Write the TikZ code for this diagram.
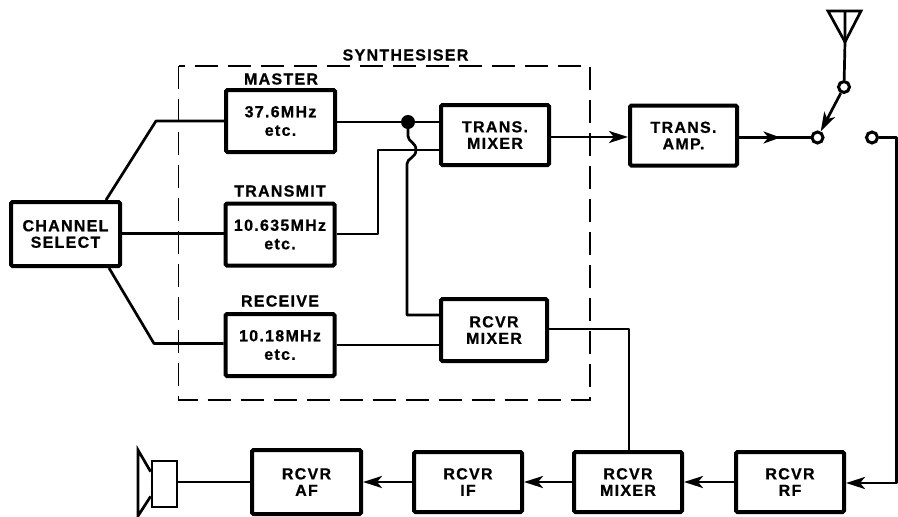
\documentclass[tikz,border=0pt]{standalone}
\usepackage{fontspec}
\setmainfont{Liberation Sans}[BoldFeatures={LetterSpace=8,FakeBold=0.8}]
\usetikzlibrary{arrows.meta,decorations.markings,calc}
\begin{document}
\begin{tikzpicture}[x=1pt,y=-1pt,
  blk/.style={draw,line width=4pt,rounded corners=1.5pt,inner sep=0pt,align=center,font=\bfseries\fontsize{16}{16.5}\selectfont,minimum width=108pt,minimum height=60pt},
  freq/.style={blk,font=\bfseries\fontsize{16}{18.5}\selectfont,minimum width=109pt,minimum height=62pt},
  lab/.style={font=\bfseries\fontsize{16}{16}\selectfont,inner sep=0pt},
  wire/.style={line width=2.7pt,line join=round},
  inarrow/.style={wire,-{Stealth[length=19pt,width=12pt,inset=5pt]}},
  term/.style={circle,draw,line width=3pt,fill=white,minimum size=11pt,inner sep=0pt},
  arr/.style={postaction={decorate},decoration={markings,mark=at position #1 with {\arrow{Stealth[length=17pt,width=12pt,inset=5pt]}}}}]
\useasboundingbox (0,0) rectangle (898,517);
\draw[line width=1.8pt,dash pattern=on 23pt off 10pt] (178.5,66) rectangle (590,400);
\node[lab] (syn) at (405.5,55) {SYNTHESISER};
\node[lab] (mas) at (281,79) {MASTER};
\node[lab] (tra) at (280,191) {TRANSMIT};
\node[lab] (rec) at (280,301) {RECEIVE};
\node[blk,minimum width=109pt,minimum height=64pt] (cs) at (65.5,234) {CHANNEL\\SELECT};
\node[freq] (m) at (280.5,121) {37.6MHz\\etc.};
\node[freq] (t) at (280,234.5) {10.635MHz\\etc.};
\node[freq] (r) at (280,345) {10.18MHz\\etc.};
\node[blk] (tm) at (495,135) {TRANS.\\MIXER};
\node[blk,minimum width=106pt,minimum height=62pt] (rm) at (494,330) {RCVR\\MIXER};
\node[blk,minimum width=107pt] (ta) at (683.5,135.5) {TRANS.\\AMP.};
\node[blk,minimum width=109pt,minimum height=64pt] (af) at (306.5,482) {RCVR\\AF};
\node[blk] (if) at (468,482) {RCVR\\IF};
\node[blk] (rm2) at (628,482) {RCVR\\MIXER};
\node[blk] (rf) at (790,482) {RCVR\\RF};
% channel select fan-out
\coordinate (c0) at (106,200);
\coordinate (c4) at (109,268);
\coordinate (c1) at (156,121);
\coordinate (c3) at (154,343.5);
\coordinate (cm) at (122,233.5);
\draw[wire] (c0) -- (c1) -- (m.west |- c1);
\draw[wire] (cm) -- (t.west |- cm);
\draw[wire] (c4) -- (c3) -- (r.west |- c3);
% master to mixer, branch
\coordinate (dot) at (408,122);
\draw[wire] (m.east |- dot) -- (tm.west |- dot);
\fill (dot) circle (7pt);
\coordinate (b1) at (378,234);
\coordinate (b2) at (378,150);
\draw[wire] (t.east |- b1) -- (b1) -- (b2) -- (tm.west |- b2);
\coordinate (rb) at (407,315);
\draw[wire] (dot) -- (408,136) .. controls (408,142) and (416,142) .. (416,150) .. controls (416,158) and (407,158) .. (407,164) -- (rb) -- (rm.west |- rb);
\draw[wire] (r.east) -- (rm.west |- r.east);
% transmit chain
\coordinate (txy) at (600,137);
\draw[inarrow] (tm.east |- txy) -- (ta.west |- txy);
\node[term] (sw) at (817.5,137.5) {};
\node[term] (up) at (844,87) {};
\node[term] (rx) at (872,137.5) {};
\draw[wire,arr=0.58] (ta.east |- sw) -- (sw);
\draw[inarrow] (up) -- (sw);
% antenna
\coordinate (ap) at (845,42);
\coordinate (al) at (828,11);
\coordinate (ar) at (861,11);
\coordinate (am) at (845,11);
\draw[wire,line join=miter] (al) -- (ar) -- (ap) -- cycle;
\draw[wire] (am) -- (ap) -- (up);
% receive path
\coordinate (k1) at (896.5,137.5);
\coordinate (k2) at (896.5,483);
\draw[inarrow] (rx) -- (k1) -- (k2) -- (rf.east |- k2);
\draw[inarrow] (rf.west) -- (rm2.east);
\draw[inarrow] (rm2.west) -- (if.east);
\draw[inarrow] (if.west) -- (af.east);
\coordinate (k3) at (629,329);
\draw[wire] (rm.east |- k3) -- (k3) -- (rm2.north -| k3);
% speaker
\node[draw,line width=2.7pt,minimum width=25pt,minimum height=46pt,inner sep=0pt] (spk) at (164.5,484) {};
\coordinate (h1) at (138,450);
\coordinate (h2) at (138,516);
\draw[wire,line join=miter] ($(spk.north west)+(0,12)$) -- (h1) -- (h2) -- ($(spk.south west)+(0,-12)$);
\draw[wire] (spk.east |- af.west) -- (af.west);
\end{tikzpicture}
\end{document}
